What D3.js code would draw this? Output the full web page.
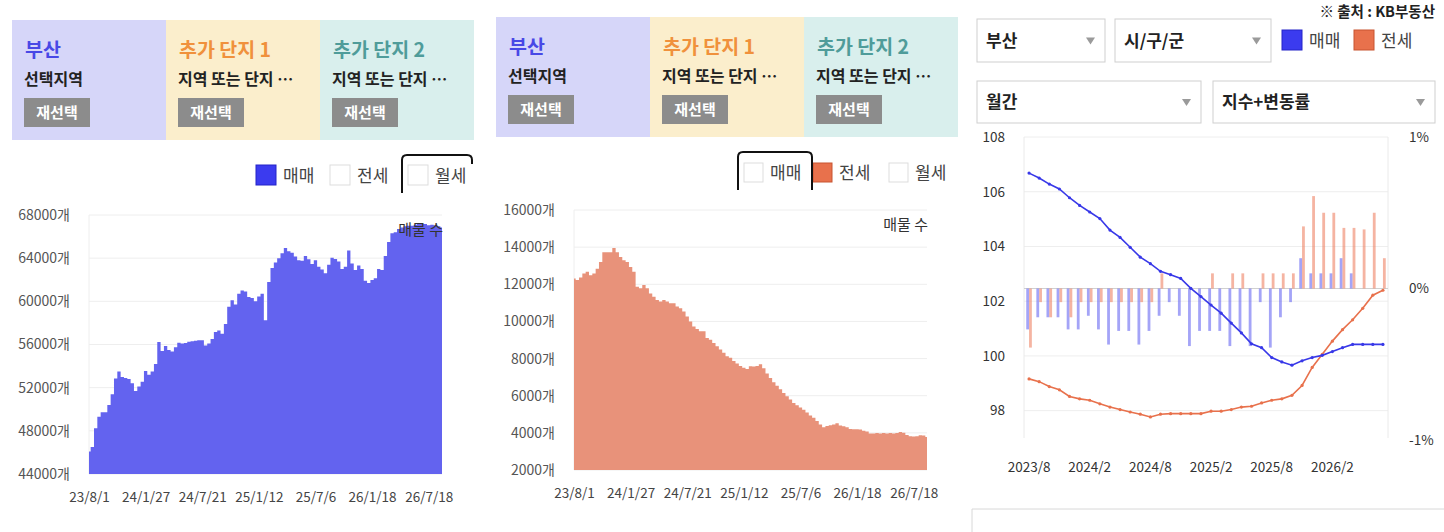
<!DOCTYPE html>
<html>
<head>
<meta charset="utf-8">
<script src="https://cdn.jsdelivr.net/npm/d3@7"></script>
<style>
  body { margin: 0; background: #fff; }
  svg text { font-family: "Noto Sans CJK KR", "Noto Sans", sans-serif; }
</style>
</head>
<body>
<svg id="plot" width="1444" height="532"></svg>
<script>
// ---- data ----
const listingTickLabels = ["23/8/1", "24/1/27", "24/7/21", "25/1/12", "25/7/6", "26/1/18", "26/7/18"];
const listingTickEvery = 17;

// 매매 매물 수 (부산)
const saleListings = [
  46090, 46500, 48250, 49300, 49720, 49720, 50400, 51400, 52860, 53500,
  53000, 52900, 52800, 52400, 51700, 52100, 52550, 53550, 53200, 53500,
  54200, 56240, 55400, 55850, 55500, 55350, 55750, 56170, 56100, 56150,
  56250, 56300, 56350, 56390, 56390, 55900, 56100, 56500, 57160, 57300,
  57000, 57900, 59500, 60090, 59700, 60700, 61000, 60900, 60400, 60300,
  60000, 60450, 60700, 58240, 61800, 63100, 63600, 64000, 64450, 64950,
  64650, 64500, 64150, 63800, 63750, 64200, 63900, 63450, 63800, 63200,
  62950, 62600, 63400, 64050, 63920, 63700, 63000, 63200, 64700, 63500,
  62900, 63330, 63000, 61900, 61700, 61980, 62150, 63000, 62900, 64200,
  65500, 66300, 66400, 66700, 66850, 66950, 67000, 67000, 67100, 67160,
  67160, 67160, 67050, 67100, 67050, 66950, 66850
];

// 전세 매물 수 (부산)
const jeonseListings = [
  12310, 12230, 12360, 12580, 12670, 12490, 12580, 12840, 13200, 13730,
  13730, 13730, 13960, 13730, 13470, 13290, 13200, 12930, 12670, 11870,
  11780, 11960, 11780, 11510, 11330, 11160, 11070, 11160, 11070, 10980,
  10980, 10800, 10710, 10530, 10270, 10000, 9730, 9590, 9470, 9470,
  9110, 9020, 8840, 8670, 8490, 8310, 8130, 8040, 7870, 7740,
  7600, 7510, 7440, 7580, 7570, 7600, 7690, 7480, 7200, 6950,
  6720, 6540, 6350, 6150, 5970, 5790, 5610, 5480, 5360, 5240,
  5090, 4940, 4810, 4640, 4450, 4300, 4370, 4410, 4450, 4520,
  4390, 4350, 4300, 4210, 4190, 4190, 4180, 4120, 4070, 3960,
  3960, 3990, 3960, 3990, 3960, 3990, 3960, 3990, 4040, 4000,
  3890, 3820, 3810, 3820, 3870, 3860, 3780
];

const saleTicks = [44000, 48000, 52000, 56000, 60000, 64000, 68000];
const jeonseTicks = [2000, 4000, 6000, 8000, 10000, 12000, 14000, 16000];

// KB 월간 지수 (2023/8 ~ 2026/7)
const months = d3.timeMonths(new Date(2023, 7, 1), new Date(2026, 7, 1)).map(d3.timeFormat("%Y/%-m"));
const saleIndex = [
  106.68, 106.5, 106.28, 106.1, 105.78, 105.5, 105.26, 105.02, 104.6, 104.33,
  103.97, 103.61, 103.37, 103.09, 102.97, 102.83, 102.47, 102.17, 101.86, 101.56,
  101.2, 100.84, 100.44, 100.3, 99.94, 99.78, 99.66, 99.82, 99.94, 100.02,
  100.16, 100.3, 100.42, 100.42, 100.42, 100.42
];
const jeonseIndex = [
  99.16, 99.06, 98.88, 98.76, 98.52, 98.43, 98.38, 98.25, 98.13, 98.04,
  97.95, 97.87, 97.77, 97.87, 97.89, 97.89, 97.89, 97.89, 97.98, 97.98,
  98.04, 98.13, 98.16, 98.28, 98.38, 98.43, 98.56, 98.92, 99.58, 100.06,
  100.54, 100.96, 101.32, 101.74, 102.22, 102.4
];
const saleChange = [
  -0.27, -0.19, -0.19, -0.19, -0.27, -0.27, -0.18, -0.27, -0.37, -0.28,
  -0.28, -0.37, -0.28, -0.18, -0.09, -0.18, -0.38, -0.28, -0.28, -0.28,
  -0.38, -0.28, -0.38, -0.09, -0.39, -0.19, -0.09, 0.2, 0.1, 0.1,
  0.1, 0.2, 0.1, 0, 0, 0
];
const jeonseChange = [
  -0.39, -0.09, -0.19, -0.09, -0.19, -0.09, -0.09, -0.09, -0.09, -0.09,
  -0.09, -0.09, -0.09, 0.1, 0, 0, 0, 0, 0.1, 0,
  0.1, 0.1, 0, 0.1, 0.1, 0.1, 0.1, 0.41, 0.61, 0.5,
  0.5, 0.4, 0.4, 0.39, 0.5, 0.2
];
const indexTicks = [98, 100, 102, 104, 106, 108];
const changeTicks = [-1, 0, 1];

const headerBoxes = [
  { title: "부산", sub: "선택지역", bg: "#d6d6f9", color: "#4848e6" },
  { title: "추가 단지 1", sub: "지역 또는 단지 …", bg: "#fbeecc", color: "#f0913c" },
  { title: "추가 단지 2", sub: "지역 또는 단지 …", bg: "#d9efed", color: "#4f9c9a" }
];

const SALE = "#3b3bef";
const JEONSE = "#e8714c";

const svg = d3.select("#plot");
svg.selectAll("*").remove();

// ---- header boxes ----
function drawHeader(x0, y0) {
  const g = svg.append("g").attr("transform", `translate(${x0}, ${y0})`);
  headerBoxes.forEach((b, i) => {
    const bx = i * 154;
    g.append("rect").attr("x", bx).attr("y", 0).attr("width", 154).attr("height", 120).attr("fill", b.bg);
    g.append("text").attr("x", bx + 13).attr("y", 37).text(b.title)
      .attr("fill", b.color).attr("font-size", 19.5).attr("font-weight", 700);
    g.append("text").attr("x", bx + 12).attr("y", 65).text(b.sub)
      .attr("fill", "#222").attr("font-size", 16).attr("font-weight", 700);
    g.append("rect").attr("x", bx + 12).attr("y", 78).attr("width", 66).attr("height", 29).attr("fill", "#8c8c8c");
    g.append("text").attr("x", bx + 45).attr("y", 98).attr("text-anchor", "middle").text("재선택")
      .attr("fill", "#fff").attr("font-size", 15).attr("font-weight", 700);
  });
}
drawHeader(12, 20);
drawHeader(496, 17);

// ---- legends ----
function legendItem(x, y, fill, stroke, label, size) {
  svg.append("rect").attr("x", x).attr("y", y).attr("width", size).attr("height", size)
    .attr("fill", fill).attr("stroke", stroke).attr("stroke-width", 1);
  svg.append("text").attr("x", x + size + 7).attr("y", y + size - 3).text(label)
    .attr("fill", "#444").attr("font-size", 17);
}
legendItem(256, 165, SALE, "#2424c8", "매매", 20);
legendItem(330, 165, "#fff", "#ddd", "전세", 20);
legendItem(408, 165, "#fff", "#ddd", "월세", 20);
svg.append("path").attr("d", "M402,193 V160 Q402,155 407,155 H467 Q472,155 472,160 V164")
  .attr("fill", "none").attr("stroke", "#111").attr("stroke-width", 2);

legendItem(744, 163, "#fff", "#ddd", "매매", 19);
legendItem(813, 163, JEONSE, "#c85530", "전세", 19);
legendItem(889, 163, "#fff", "#ddd", "월세", 19);
svg.append("path").attr("d", "M738,190 V157 Q738,152 743,152 H807 Q812,152 812,157 V190")
  .attr("fill", "none").attr("stroke", "#111").attr("stroke-width", 2);

// ---- listing area charts ----
function drawListings(values, ticks, color, left, top, right, bottom) {
  const x = d3.scaleLinear().domain([0, values.length - 1]).range([left, right]);
  const y = d3.scaleLinear().domain(d3.extent(ticks)).range([bottom, top]);

  svg.append("g").selectAll("line").data(ticks).enter().append("line")
    .attr("x1", left).attr("x2", right)
    .attr("y1", d => y(d)).attr("y2", d => y(d))
    .attr("stroke", "#eeeeee").attr("stroke-width", 1);
  svg.append("line").attr("x1", left).attr("x2", left).attr("y1", top).attr("y2", bottom)
    .attr("stroke", "#eeeeee");

  svg.append("path").datum(values)
    .attr("fill", color)
    .attr("d", d3.area()
      .x((d, i) => x(i))
      .y0(y(ticks[0]))
      .y1(d => y(d))
      .curve(d3.curveStep));

  const yAxis = d3.axisLeft(y).tickValues(ticks).tickFormat(d => d + "개").tickSize(0).tickPadding(19);
  const ya = svg.append("g").attr("transform", `translate(${left}, 0)`).call(yAxis);
  ya.select(".domain").remove();
  ya.selectAll("text").attr("fill", "#555").attr("font-size", 14)
    .style("font-family", '"Noto Sans CJK KR", sans-serif');

  const tickIdx = listingTickLabels.map((d, i) => i * listingTickEvery);
  const xAxis = d3.axisBottom(x).tickValues(tickIdx).tickFormat((d, i) => listingTickLabels[i]).tickSize(0).tickPadding(18);
  const xa = svg.append("g").attr("transform", `translate(0, ${bottom})`).call(xAxis);
  xa.select(".domain").remove();
  xa.selectAll("text").attr("fill", "#444").attr("font-size", 13.5)
    .style("font-family", '"Noto Sans CJK KR", sans-serif');

  svg.append("text").attr("x", right + 1).attr("y", top + 20).attr("text-anchor", "end")
    .text("매물 수").attr("fill", "#333").attr("font-size", 15);
}
drawListings(saleListings, saleTicks, "#6363ef", 89, 215, 442, 474);
drawListings(jeonseListings, jeonseTicks, "#e8927a", 574, 210, 927, 470);

// ---- panel 3 controls ----
function selectBox(x, y, w, h, label) {
  svg.append("rect").attr("x", x).attr("y", y).attr("width", w).attr("height", h)
    .attr("fill", "#fff").attr("stroke", "#cfcfcf");
  svg.append("text").attr("x", x + 9).attr("y", y + h / 2 + 6).text(label)
    .attr("fill", "#222").attr("font-size", 17).attr("font-weight", 700);
  const tx = x + w - 19, ty = y + h / 2 - 3;
  svg.append("path").attr("d", `M${tx},${ty} h9 l-4.5,7 z`).attr("fill", "#9a9a9a");
}
selectBox(977, 19, 128, 43, "부산");
selectBox(1115, 19, 156, 43, "시/구/군");
selectBox(977, 81, 224, 42, "월간");
selectBox(1213, 81, 222, 42, "지수+변동률");

svg.append("text").attr("x", 1435).attr("y", 17).attr("text-anchor", "end")
  .text("※ 출처 : KB부동산").attr("fill", "#222").attr("font-size", 14.5).attr("font-weight", 700);
legendItem(1282, 30, SALE, "#2424c8", "매매", 20);
legendItem(1354, 30, JEONSE, "#c85530", "전세", 20);

// ---- panel 3 index + change chart ----
const pLeft = 1024, pRight = 1388, pTop = 137, pBottom = 438;
const xm = d3.scaleBand().domain(months).range([pLeft, pRight]);
const cx = d => xm(d) + xm.bandwidth() / 2;
const yIdx = d3.scaleLinear().domain([97, 108]).range([pBottom, pTop]);
const yChg = d3.scaleLinear().domain([-1, 1]).range([440, pTop]);

svg.append("g").selectAll("line").data(indexTicks).enter().append("line")
  .attr("x1", pLeft).attr("x2", pRight)
  .attr("y1", d => yIdx(d)).attr("y2", d => yIdx(d))
  .attr("stroke", "#eeeeee");
[pLeft, pRight].forEach(xv => {
  svg.append("line").attr("x1", xv).attr("x2", xv).attr("y1", pTop).attr("y2", pBottom).attr("stroke", "#eaeaea");
});
svg.append("line").attr("x1", pLeft).attr("x2", pRight)
  .attr("y1", yChg(0)).attr("y2", yChg(0)).attr("stroke", "#d0d0d0");

const barW = 2.8;
const bars = svg.append("g");
bars.selectAll(".sb").data(saleChange).enter().append("rect")
  .attr("x", (d, i) => cx(months[i]) - barW)
  .attr("y", d => yChg(Math.max(0, d)))
  .attr("width", barW)
  .attr("height", d => Math.abs(yChg(d) - yChg(0)))
  .attr("fill", "rgba(90, 90, 240, 0.55)");
bars.selectAll(".jb").data(jeonseChange).enter().append("rect")
  .attr("x", (d, i) => cx(months[i]))
  .attr("y", d => yChg(Math.max(0, d)))
  .attr("width", barW)
  .attr("height", d => Math.abs(yChg(d) - yChg(0)))
  .attr("fill", "rgba(238, 130, 100, 0.6)");

function indexLine(values, color) {
  svg.append("path").datum(values)
    .attr("fill", "none").attr("stroke", color).attr("stroke-width", 1.6)
    .attr("d", d3.line().x((d, i) => cx(months[i])).y(d => yIdx(d)));
  svg.append("g").selectAll("circle").data(values).enter().append("circle")
    .attr("cx", (d, i) => cx(months[i])).attr("cy", d => yIdx(d)).attr("r", 1.6)
    .attr("fill", color);
}
indexLine(jeonseIndex, "#e8714c");
indexLine(saleIndex, "#3838e8");

const yl = svg.append("g").attr("transform", `translate(1005, 0)`)
  .call(d3.axisLeft(yIdx).tickValues(indexTicks).tickSize(0).tickPadding(0));
yl.select(".domain").remove();
yl.selectAll("text").attr("fill", "#333").attr("font-size", 13.5)
  .style("font-family", '"Noto Sans CJK KR", sans-serif');

const yr = svg.append("g").attr("transform", `translate(1409, 0)`)
  .call(d3.axisRight(yChg).tickValues(changeTicks).tickFormat(d => d + "%").tickSize(0).tickPadding(0));
yr.select(".domain").remove();
yr.selectAll("text").attr("fill", "#333").attr("font-size", 13.5)
  .style("font-family", '"Noto Sans CJK KR", sans-serif');

const xb = svg.append("g").attr("transform", `translate(0, ${pBottom})`)
  .call(d3.axisBottom(xm).tickValues(months.filter((d, i) => i % 6 === 0)).tickSize(0).tickPadding(24));
xb.select(".domain").remove();
xb.selectAll("text").attr("fill", "#333").attr("font-size", 13.5)
  .style("font-family", '"Noto Sans CJK KR", sans-serif');

// bottom frame fragment
svg.append("path").attr("d", "M972,532 V509 H1444").attr("fill", "none").attr("stroke", "#d8d8d8");
</script>
</body>
</html>
